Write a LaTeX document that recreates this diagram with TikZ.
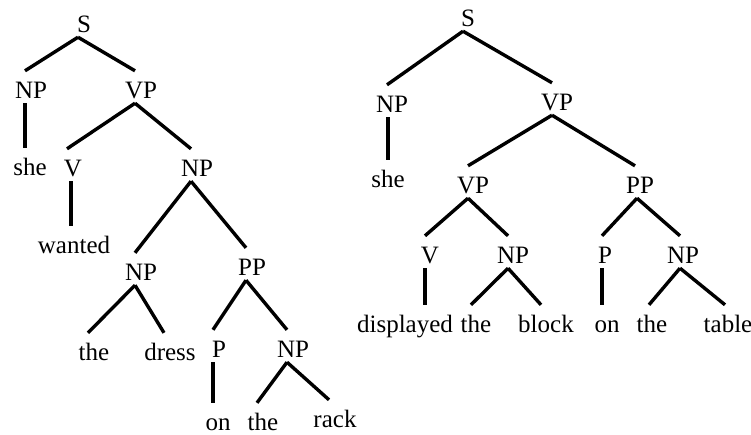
\documentclass[tikz,border=0pt]{standalone}
\usepackage{fontspec}
\setmainfont{Liberation Serif}
\usepackage{tikz}

\tikzset{
  lbl/.style={anchor=base, inner sep=0pt, text height=27pt, text depth=5pt,
    font=\fontsize{25}{30}\selectfont},
  branch/.style={line width=3.4pt}
}

\begin{document}
\begin{tikzpicture}[x=1pt, y=-1pt]
            \useasboundingbox (0, 0) rectangle (751, 434);
            \node[lbl] (s1) at (84, 32) {S};
            \node[lbl] (np1) at (31, 98) {NP};
            \node[lbl] (vp1) at (141, 98) {VP};
            \node[lbl] (she1) at (30, 175) {she};
            \node[lbl] (v1) at (73, 176) {V};
            \node[lbl] (np2) at (197, 176) {NP};
            \node[lbl] (wanted) at (74, 253) {wanted};
            \node[lbl] (np3) at (141, 280) {NP};
            \node[lbl] (pp1) at (252, 275) {PP};
            \node[lbl] (the1) at (94, 360) {the};
            \node[lbl] (dress) at (170, 360) {dress};
            \node[lbl] (p1) at (219, 357) {P};
            \node[lbl] (np4) at (293, 357) {NP};
            \node[lbl] (on1) at (218, 430) {on};
            \node[lbl] (the2) at (263, 430) {the};
            \node[lbl] (rack) at (335, 427) {rack};
            \draw[branch] ([xshift=-6pt]s1.south) -- ([xshift=-6pt]np1.north);
            \draw[branch] ([xshift=-6pt]s1.south) -- ([xshift=-6pt]vp1.north);
            \draw[branch] ([xshift=-6pt]np1.south) -- ([xshift=-6pt]np1.south |- she1.north);
            \draw[branch] ([xshift=-6pt]vp1.south) -- ([xshift=-6pt]v1.north);
            \draw[branch] ([xshift=-6pt]vp1.south) -- ([xshift=-6pt]np2.north);
            \draw[branch] ([xshift=-2pt]v1.south) -- ([xshift=-2pt]v1.south |- wanted.north);
            \draw[branch] ([xshift=-6pt]np2.south) -- ([xshift=-6pt]np3.north);
            \draw[branch] ([xshift=-6pt]np2.south) -- ([xshift=-6pt]pp1.north);
            \draw[branch] ([xshift=-6pt]np3.south) -- ([xshift=-6pt]the1.north);
            \draw[branch] ([xshift=-6pt]np3.south) -- ([xshift=-6pt]dress.north);
            \draw[branch] ([xshift=-6pt]pp1.south) -- ([xshift=-6pt]p1.north);
            \draw[branch] ([xshift=-6pt]pp1.south) -- ([xshift=-6pt]np4.north);
            \draw[branch] ([xshift=-6pt]p1.south) -- ([xshift=-6pt]p1.south |- on1.north);
            \draw[branch] ([xshift=-6pt]np4.south) -- ([xshift=-6pt]the2.north);
            \draw[branch] ([xshift=-6pt]np4.south) -- ([xshift=-6pt]rack.north);
            \node[lbl] (s2) at (468, 26) {S};
            \node[lbl] (np5) at (392, 112) {NP};
            \node[lbl] (vp2) at (557, 110) {VP};
            \node[lbl] (she2) at (388, 187) {she};
            \node[lbl] (vp3) at (473, 193) {VP};
            \node[lbl] (pp2) at (640, 193) {PP};
            \node[lbl] (v2) at (430, 263) {V};
            \node[lbl] (np6) at (513, 263) {NP};
            \node[lbl] (p2) at (605, 263) {P};
            \node[lbl] (np7) at (683, 263) {NP};
            \node[lbl] (displayed) at (405, 332) {displayed};
            \node[lbl] (the3) at (476, 332) {the};
            \node[lbl] (block) at (546, 332) {block};
            \node[lbl] (on2) at (607, 332) {on};
            \node[lbl] (the4) at (652, 332) {the};
            \node[lbl] (table) at (728, 332) {table};
            \draw[branch] ([xshift=-5pt]s2.south) -- ([xshift=-5pt]np5.north);
            \draw[branch] ([xshift=-5pt]s2.south) -- ([xshift=-5pt]vp2.north);
            \draw[branch] ([xshift=-4pt]np5.south) -- ([xshift=-4pt]np5.south |- she2.north);
            \draw[branch] ([xshift=-5pt]vp2.south) -- ([xshift=-5pt]vp3.north);
            \draw[branch] ([xshift=-5pt]vp2.south) -- ([xshift=-5pt]pp2.north);
            \draw[branch] ([xshift=-5pt]vp3.south) -- ([xshift=-5pt]v2.north);
            \draw[branch] ([xshift=-5pt]vp3.south) -- ([xshift=-5pt]np6.north);
            \draw[branch] ([xshift=-5pt]v2.south) -- ([xshift=-5pt]v2.south |- displayed.north);
            \draw[branch] ([xshift=-5pt]np6.south) -- ([xshift=-5pt]the3.north);
            \draw[branch] ([xshift=-5pt]np6.south) -- ([xshift=-5pt]block.north);
            \draw[branch] ([xshift=-3pt]pp2.south) -- ([xshift=-3pt]p2.north);
            \draw[branch] ([xshift=-3pt]pp2.south) -- ([xshift=-3pt]np7.north);
            \draw[branch] ([xshift=-3pt]p2.south) -- ([xshift=-3pt]p2.south |- on2.north);
            \draw[branch] ([xshift=-3pt]np7.south) -- ([xshift=-3pt]the4.north);
            \draw[branch] ([xshift=-3pt]np7.south) -- ([xshift=-3pt]table.north);
        \end{tikzpicture}
\end{document}
